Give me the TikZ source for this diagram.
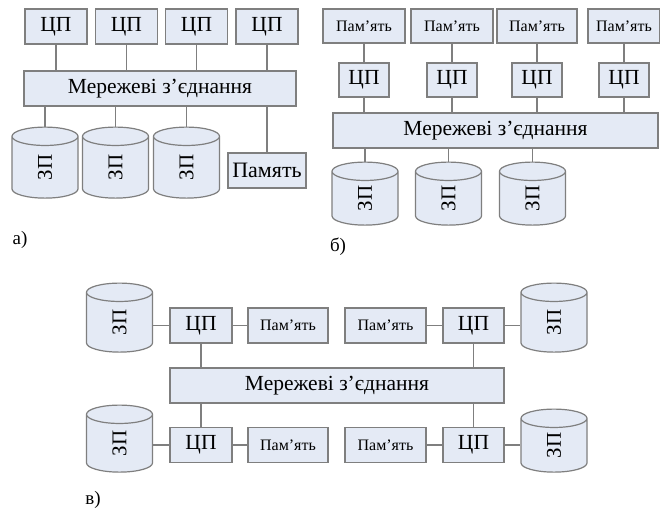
\documentclass[tikz,border=0pt]{standalone}
\usepackage{fontspec}
\usepackage{graphicx}
\setmainfont{Liberation Serif}
\usetikzlibrary{shapes.geometric}
\definecolor{boxfill}{HTML}{E4EAF5}
\definecolor{edgegray}{HTML}{7F7F7F}
\begin{document}
\begin{tikzpicture}[x=1pt,y=-1pt,
  blk/.style={draw=edgegray, fill=boxfill, line width=1.2pt, inner sep=0pt, minimum height=35pt, font=\fontsize{21.5}{25}\selectfont},
  memsm/.style={blk, font=\fontsize{16}{19}\selectfont},
  cyl/.style={cylinder, shape border rotate=90, draw=edgegray, fill=boxfill, line width=1.2pt, inner sep=0pt, aspect=1.3, minimum width=66pt, font=\fontsize{21}{25}\selectfont},
  wire/.style={draw=edgegray, line width=1.2pt},
  lbl/.style={font=\fontsize{19}{22}\selectfont, inner sep=0pt}]
\useasboundingbox[fill=white] (0,0) rectangle (660,516);
% ---- a)
\node[blk, minimum width=62pt] (a1) at (56,26.5) {ЦП};
\node[blk, minimum width=62pt] (a2) at (126.5,26.5) {ЦП};
\node[blk, minimum width=62pt] (a3) at (196.5,26.5) {ЦП};
\node[blk, minimum width=62pt] (a4) at (267,26.5) {ЦП};
\node[blk, minimum width=272pt] (an) at (160,88.5) {Мережеві з’єднання};
\node[cyl, minimum height=71pt] (ac1) at (45,167.5) {\rotatebox{90}{ЗП}};
\node[cyl, minimum height=71pt] (ac2) at (115.5,167.5) {\rotatebox{90}{ЗП}};
\node[cyl, minimum height=71pt] (ac3) at (186.5,167.5) {\rotatebox{90}{ЗП}};
\node[blk, minimum width=78pt, font=\fontsize{22}{26}\selectfont] (am) at (267,170.5) {Память};
\foreach \n in {a1,a2,a3,a4} \draw[wire] (\n.south) -- (\n.south |- an.north);
\foreach \n in {ac1,ac2,ac3,am} \draw[wire] (\n.north) -- (\n.north |- an.south);
\node[lbl] (la) at (20,240) {а)};
% ---- b)
\node[memsm, minimum width=82pt, minimum height=34pt] (bm1) at (364,26) {Пам’ять};
\node[memsm, minimum width=82pt, minimum height=34pt] (bm2) at (452,26) {Пам’ять};
\node[memsm, minimum width=80pt, minimum height=34pt] (bm3) at (537,26) {Пам’ять};
\node[memsm, minimum width=72pt, minimum height=34pt] (bm4) at (624,26) {Пам’ять};
\node[blk, minimum width=50pt, minimum height=34pt] (bc1) at (364,80) {ЦП};
\node[blk, minimum width=50pt, minimum height=34pt] (bc2) at (452,80) {ЦП};
\node[blk, minimum width=50pt, minimum height=34pt] (bc3) at (537,80) {ЦП};
\node[blk, minimum width=50pt, minimum height=34pt] (bc4) at (624,80) {ЦП};
\node[blk, minimum width=325pt] (bn) at (495.5,130.5) {Мережеві з’єднання};
\node[cyl, minimum height=63pt] (bs1) at (365,198.5) {\rotatebox{90}{ЗП}};
\node[cyl, minimum height=63pt] (bs2) at (448.5,198.5) {\rotatebox{90}{ЗП}};
\node[cyl, minimum height=63pt] (bs3) at (532.5,198.5) {\rotatebox{90}{ЗП}};
\foreach \i in {1,2,3,4} {
  \draw[wire] (bm\i.south) -- (bc\i.north);
  \draw[wire] (bc\i.south) -- (bc\i.south |- bn.north);
}
\foreach \n in {bs1,bs2,bs3} \draw[wire] (\n.north) -- (\n.north |- bn.south);
\node[lbl] (lb) at (338,247) {б)};
% ---- c)
\node[cyl, minimum height=69pt] (vs1) at (119.5,322.5) {\rotatebox{90}{ЗП}};
\node[blk, minimum width=62pt] (vc1) at (201,325.5) {ЦП};
\node[memsm, minimum width=80pt] (vm1) at (288,325.5) {Пам’ять};
\node[memsm, minimum width=81pt] (vm2) at (385.5,325.5) {Пам’ять};
\node[blk, minimum width=61pt] (vc2) at (473.5,325.5) {ЦП};
\node[cyl, minimum height=69pt] (vs2) at (554,322.5) {\rotatebox{90}{ЗП}};
\node[blk, minimum width=334pt] (vn) at (337,385.5) {Мережеві з’єднання};
\node[cyl, minimum height=67pt] (vs3) at (119.5,443.5) {\rotatebox{90}{ЗП}};
\node[blk, minimum width=62pt] (vc3) at (201,445) {ЦП};
\node[memsm, minimum width=80pt] (vm3) at (288,445) {Пам’ять};
\node[memsm, minimum width=81pt] (vm4) at (385.5,445) {Пам’ять};
\node[blk, minimum width=61pt] (vc4) at (473.5,445) {ЦП};
\node[cyl, minimum height=63pt] (vs4) at (554,445.5) {\rotatebox{90}{ЗП}};
\draw[wire] (vs1.east |- vc1.west) -- (vc1.west);
\draw[wire] (vc1.east) -- (vm1.west);
\draw[wire] (vm2.east) -- (vc2.west);
\draw[wire] (vc2.east) -- (vs2.west |- vc2.east);
\draw[wire] (vs3.east |- vc3.west) -- (vc3.west);
\draw[wire] (vc3.east) -- (vm3.west);
\draw[wire] (vm4.east) -- (vc4.west);
\draw[wire] (vc4.east) -- (vs4.west |- vc4.east);
\draw[wire] (vc1.south) -- (vc1.south |- vn.north);
\draw[wire] (vc2.south) -- (vc2.south |- vn.north);
\draw[wire] (vc3.north) -- (vc3.north |- vn.south);
\draw[wire] (vc4.north) -- (vc4.north |- vn.south);
\node[lbl] (lv) at (93,500) {в)};
\end{tikzpicture}
\end{document}
